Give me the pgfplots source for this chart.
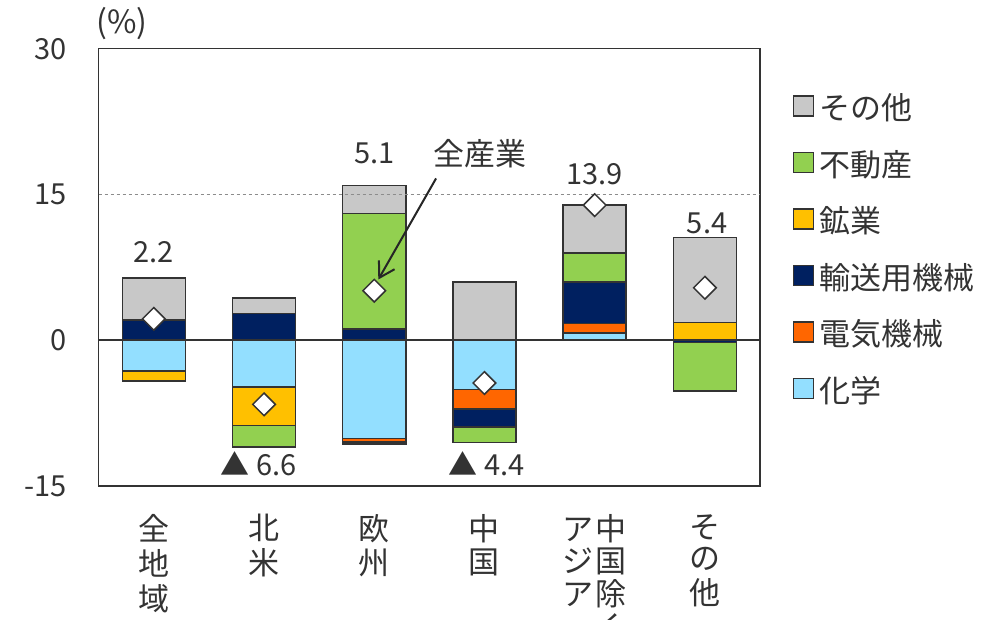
\documentclass[border=0pt]{standalone}
\usepackage{fontspec}
\setmainfont{Noto Sans CJK JP}
\usepackage{pgfplots}
\pgfplotsset{compat=1.18}
\usetikzlibrary{arrows.meta}
\definecolor{cgray}{HTML}{C8C8C8}
\definecolor{cgreen}{HTML}{92D050}
\definecolor{cyellow}{HTML}{FFC000}
\definecolor{cnavy}{HTML}{002060}
\definecolor{corange}{HTML}{FF6600}
\definecolor{cblue}{HTML}{93DFFF}
\definecolor{ctext}{HTML}{333333}
\definecolor{cline}{HTML}{333333}
\newcommand{\numfont}{\fontsize{29}{33}\selectfont}
\newcommand{\jfont}{\fontsize{31}{30}\selectfont}
\newcommand{\vlab}[1]{\begin{tabular}{@{}c@{}}#1\end{tabular}}
\newcommand{\labA}{\vlab{全\\地\\域}}
\newcommand{\labB}{\vlab{北\\米}}
\newcommand{\labC}{\vlab{欧\\州}}
\newcommand{\labD}{\vlab{中\\国}}
\newcommand{\labE}{\raisebox{4pt}{\begin{tabular}[t]{@{}c@{\hspace{2pt}}c@{}}ア&中\\[-1.5pt]ジ&国\\[-1.5pt]ア&除\\[-1.5pt]&く\end{tabular}}}
\newcommand{\labF}{\vlab{そ\\の\\他}}
\pgfplotsset{
  geom/.style={
    width=661.3pt, height=437.3pt, scale only axis,
    xmin=-0.5, xmax=5.5, ymin=-15, ymax=30,
    at={(0pt,0pt)}, anchor=south west,
  },
  bars/.style={
    ybar stacked, bar width=0.572,
    every axis plot/.append style={draw=cline, line width=1.5pt},
  },
}
\begin{document}
\begin{tikzpicture}
\path[use as bounding box] (-98.7pt,-134pt) rectangle (897.3pt,486pt);
% positive stacks + frame + legend
\begin{axis}[geom, bars,
  axis line style={draw=cline, line width=1.5pt},
  major tick length=0pt,
  ytick={-15,0,15,30}, yticklabels={-15,0,15,30},
  yticklabel style={font=\numfont, text=ctext, inner sep=0pt, xshift=-32pt},
  xtick={0,1,2,3,4,5},
  xticklabels={\labA,\labB,\labC,\labD,\labE,\labF},
  xticklabel style={font=\jfont, text=ctext, inner sep=0pt, anchor=north, yshift=-28pt},
  legend image code/.code={\draw[#1, line width=1.5pt] (0pt,-4.2pt) rectangle (20pt,15.8pt);},
  reverse legend,
  legend cell align=left,
  legend style={at={(rel axis cs:1.0494,0.8937)}, anchor=north west,
    draw=none, fill=none, inner sep=0pt, row sep=25.9pt,
    font=\jfont, text=ctext,
    nodes={inner sep=0pt, text height=22pt, text depth=6pt},
    /tikz/every odd column/.append style={column sep=5pt}},
]
\draw[dash pattern=on 3pt off 3pt, color=black!45, line width=0.8pt] (axis cs:-0.5,15) -- (axis cs:5.5,15);
\addplot[fill=cblue] coordinates {(0,0) (1,0) (2,0) (3,0) (4,0.76) (5,0)};
\addlegendentry{化学}
\addplot[fill=corange] coordinates {(0,0) (1,0) (2,0) (3,0) (4,0.96) (5,0)};
\addlegendentry{電気機械}
\addplot[fill=cnavy] coordinates {(0,2.06) (1,2.75) (2,1.13) (3,0) (4,4.25) (5,0)};
\addlegendentry{輸送用機械}
\addplot[fill=cyellow] coordinates {(0,0) (1,0) (2,0) (3,0) (4,0) (5,1.85)};
\addlegendentry{鉱業}
\addplot[fill=cgreen] coordinates {(0,0) (1,0) (2,11.9) (3,0) (4,3.0) (5,0)};
\addlegendentry{不動産}
\addplot[fill=cgray] coordinates {(0,4.35) (1,1.6) (2,2.9) (3,6.0) (4,4.93) (5,8.72)};
\addlegendentry{その他}
\end{axis}
% negative stacks
\begin{axis}[geom, bars, hide axis]
\addplot[fill=cblue] coordinates {(0,-3.16) (1,-4.8) (2,-10.13) (3,-5.08) (4,0) (5,0)};
\addplot[fill=corange] coordinates {(0,0) (1,0) (2,-0.35) (3,-2.0) (4,0) (5,0)};
\addplot[fill=cnavy] coordinates {(0,0) (1,0) (2,0) (3,-1.85) (4,0) (5,-0.25)};
\addplot[fill=cyellow] coordinates {(0,-1.03) (1,-3.95) (2,-0.12) (3,0) (4,0) (5,0)};
\addplot[fill=cgreen] coordinates {(0,0) (1,-2.23) (2,-0.12) (3,-1.6) (4,0) (5,-4.97)};
\end{axis}
% totals, zero line, annotations
\begin{axis}[geom, hide axis, clip=false]
\draw[cline, line width=1.5pt] (axis cs:-0.5,0) -- (axis cs:5.5,0);
\addplot[only marks, mark=square*, mark size=8pt,
  mark options={rotate=45, fill=white, draw=cline, line width=1.5pt}]
  coordinates {(0,2.2) (1,-6.6) (2,5.1) (3,-4.4) (4,13.9) (5,5.4)};
\node[font=\numfont, text=ctext] at (axis cs:0,9.1) {2.2};
\node[font=\numfont, text=ctext] at (axis cs:0.95,-12.67) {▲ 6.6};
\node[font=\numfont, text=ctext] at (axis cs:2,19.2) {5.1};
\node[font=\jfont, text=ctext] at (axis cs:2.96,19.2) {全産業};
\node[font=\numfont, text=ctext] at (axis cs:3.02,-12.67) {▲ 4.4};
\node[font=\numfont, text=ctext] at (axis cs:4,17.1) {13.9};
\node[font=\numfont, text=ctext] at (axis cs:5.02,11.98) {5.4};
\node[font=\fontsize{32}{36}\selectfont, text=ctext] at (axis cs:-0.289,32.6) {(\%)};
\draw[-{Straight Barb[length=15pt,width=18pt]}, line width=2pt, color=black!85]
  (axis cs:2.561,16.65) -- (axis cs:2.037,6.25);
\end{axis}
\end{tikzpicture}
\end{document}
